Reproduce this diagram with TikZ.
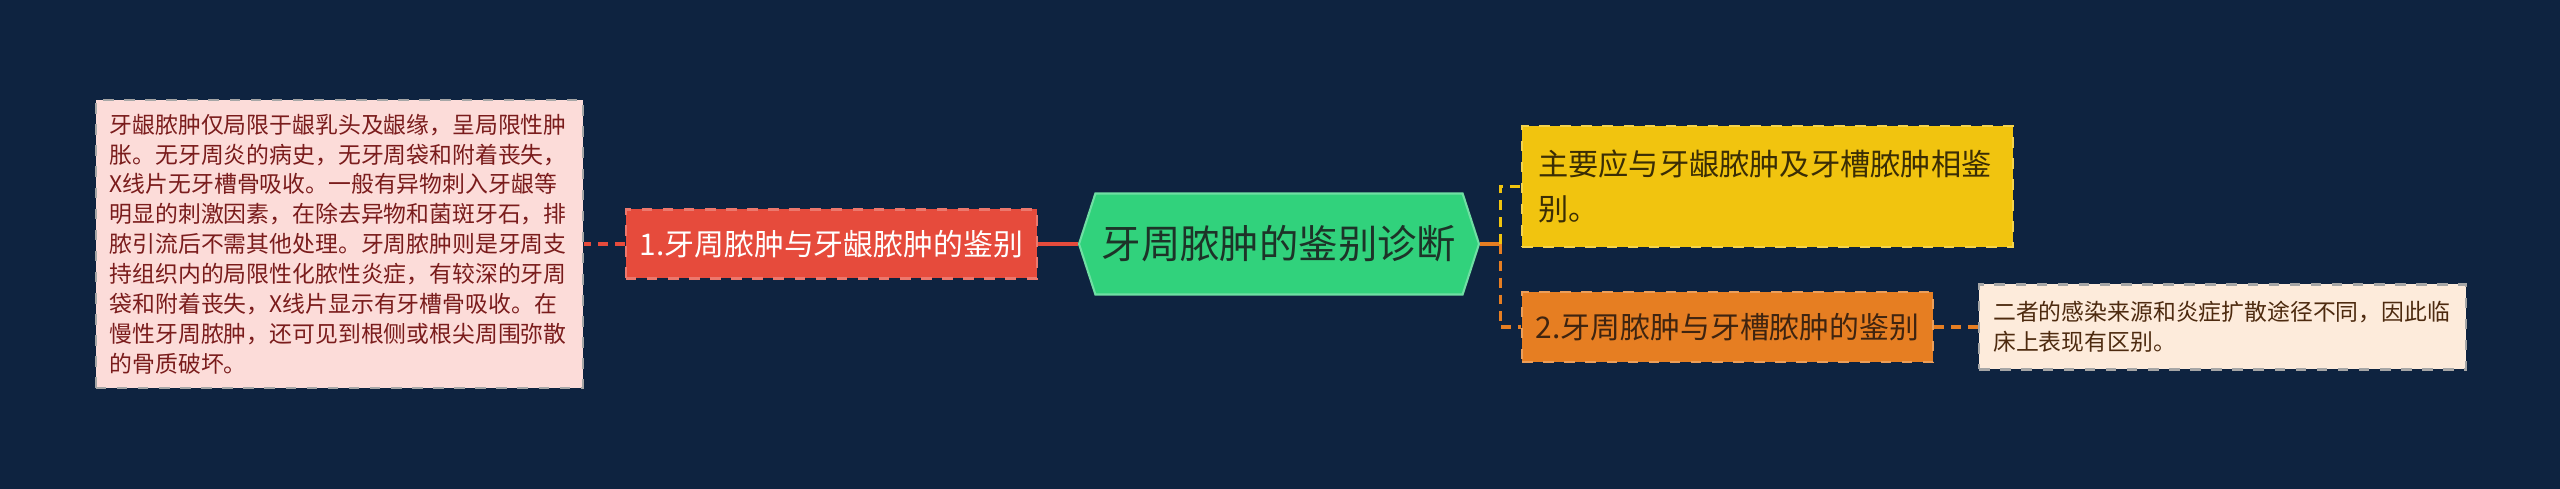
\documentclass[tikz,border=0pt]{standalone}
\usepackage{fontspec}
\setmainfont{Noto Sans CJK SC}
\usetikzlibrary{positioning,shapes.symbols}
\definecolor{navybg}{HTML}{0E2340}
\definecolor{rootgreen}{HTML}{31D27C}
\definecolor{branchred}{HTML}{E64B3C}
\definecolor{branchyellow}{HTML}{F1C40F}
\definecolor{branchorange}{HTML}{E67E22}
\definecolor{notepink}{HTML}{FCDCD9}
\definecolor{notecream}{HTML}{FDEBDB}
\definecolor{pinktext}{HTML}{7A1C1C}
\definecolor{creamtext}{HTML}{4D2A0F}
\definecolor{roottext}{HTML}{1D3328}
\definecolor{yellowtext}{HTML}{3A2D05}
\definecolor{orangetext}{HTML}{3F2410}

\begin{document}
\begin{tikzpicture}[
            node distance=0.41cm,
            root/.style={signal, signal to=east and west, signal pointer angle=144,
                         fill=rootgreen, draw=rootgreen!70!white, line width=0.6pt,
                         minimum width=4cm, minimum height=1.01cm, inner sep=0pt,
                         text=roottext, font=\fontsize{11.2}{13}\selectfont},
            branch/.style={rectangle, draw=#1!75!white, fill=#1, dashed, line width=0.6pt,
                           minimum height=0.69cm, inner xsep=0.1cm, inner ysep=0pt,
                           font=\fontsize{8.5}{10}\selectfont},
            note/.style={rectangle, draw=gray!70, fill=#1, dashed, line width=0.6pt,
                         inner xsep=0.14cm, inner ysep=0pt, align=left,
                         font=\fontsize{6.5}{8.5}\selectfont},
            link/.style={line width=0.9pt, color=#1},
            dlink/.style={line width=0.9pt, color=#1, dash pattern=on 2.8pt off 2pt}
        ]
            \useasboundingbox[fill=navybg] (0,0) rectangle (25.6,4.89);

            \node[root] (root) at (12.79,2.45) {牙周脓肿的鉴别诊断};

            % left side
            \node[branch=branchred, minimum width=4.11cm, text=white, left=0.4cm of root] (b1) {1.牙周脓肿与牙龈脓肿的鉴别};
            \node[note=notepink, text width=4.59cm, minimum height=2.88cm, text=pinktext, left=0.41cm of b1] (d1)
                {牙龈脓肿仅局限于龈乳头及龈缘，呈局限性肿\\
                 胀。无牙周炎的病史，无牙周袋和附着丧失，\\
                 X线片无牙槽骨吸收。一般有异物刺入牙龈等\\
                 明显的刺激因素，在除去异物和菌斑牙石，排\\
                 脓引流后不需其他处理。牙周脓肿则是牙周支\\
                 持组织内的局限性化脓性炎症，有较深的牙周\\
                 袋和附着丧失，X线片显示有牙槽骨吸收。在\\
                 慢性牙周脓肿，还可见到根侧或根尖周围弥散\\
                 的骨质破坏。};

            % right side
            \node[branch=branchyellow, text width=4.59cm, inner xsep=0.16cm, align=left, minimum height=1.21cm,
                  text=yellowtext, font=\fontsize{8.6}{12.7}\selectfont,
                  right=of root, yshift=0.575cm] (b0)
                {主要应与牙龈脓肿及牙槽脓肿相鉴\\别。};
            \node[branch=branchorange, minimum width=4.11cm, minimum height=0.70cm, text=orangetext,
                  right=of root, yshift=-0.83cm] (b2) {2.牙周脓肿与牙槽脓肿的鉴别};
            \node[note=notecream, text width=4.59cm, minimum height=0.85cm, text=creamtext,
                  right=0.44cm of b2] (d2)
                {二者的感染来源和炎症扩散途径不同，因此临\\
                 床上表现有区别。};

            \draw[link=branchred] (root.west) -- ++(-0.3,0) coordinate (j1);
            \draw[dlink=branchred] (j1) -- (b1.east);
            \draw[dlink=branchred] (b1.west) -- (d1.east);

            \draw[link=branchorange] (root.east) -- ++(0.2,0) coordinate (j2);
            \draw[dlink=branchyellow] (j2) |- (b0.west);
            \draw[dlink=branchorange] (j2) |- (b2.west);
            \draw[dlink=branchorange] (b2.east) -- (d2.west);
        \end{tikzpicture}
\end{document}
